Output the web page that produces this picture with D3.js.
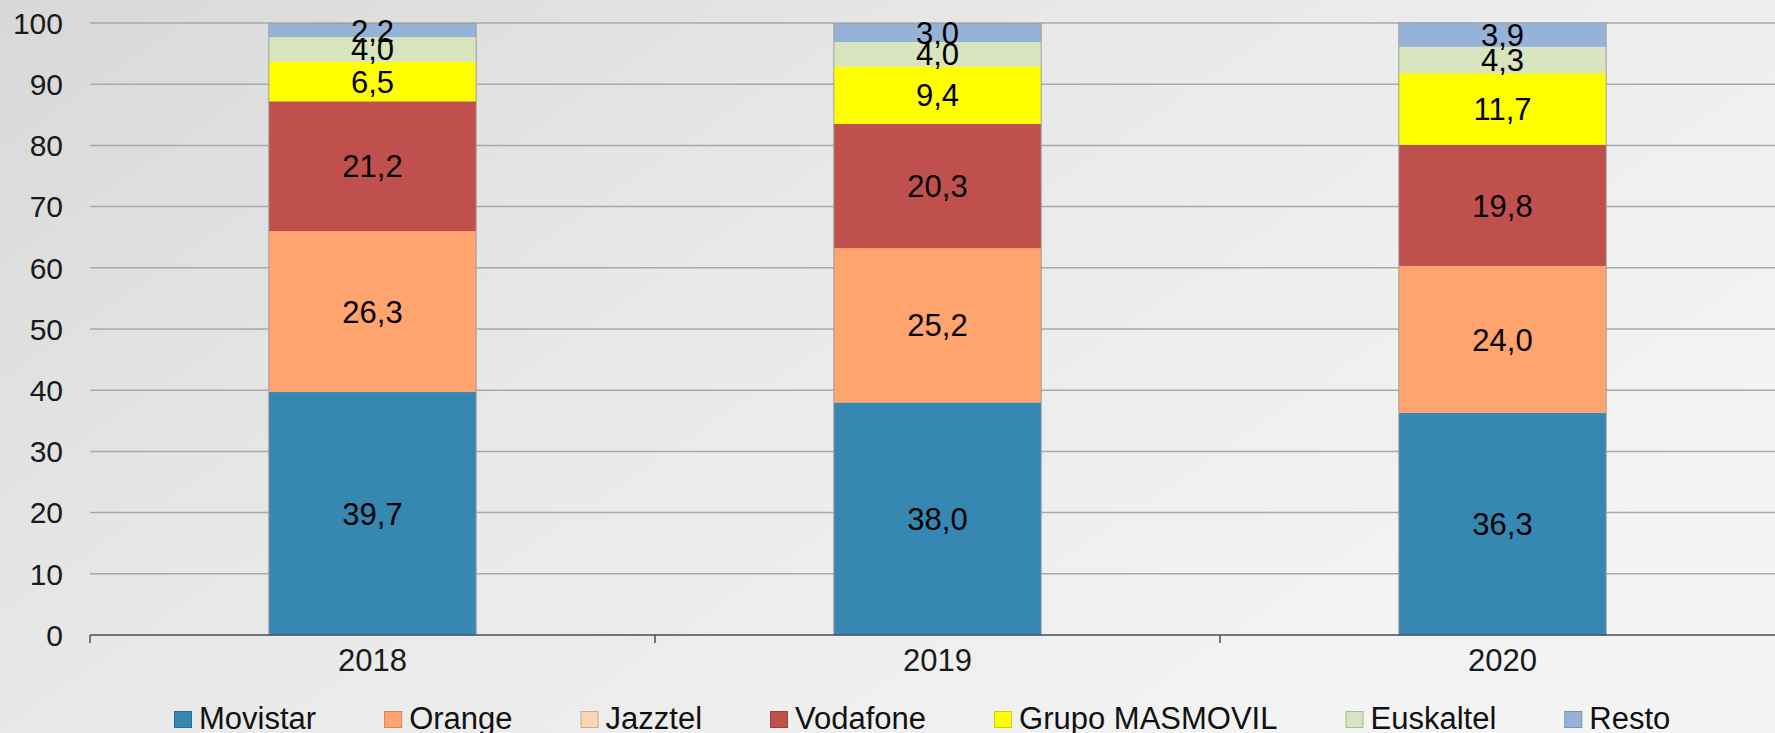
<!DOCTYPE html>
<html>
<head>
<meta charset="utf-8">
<script src="https://cdn.jsdelivr.net/npm/d3@7/dist/d3.min.js"></script>
<style>
  html, body { margin: 0; padding: 0; overflow: hidden; }
  svg { display: block; font-family: "Liberation Sans", Arial, sans-serif; }
</style>
</head>
<body>
<div id="chart"></div>
<script>
// Cuota de mercado por operador (%), barras apiladas al 100 %
const years = ['2018', '2019', '2020'];
const operators = ['Movistar', 'Orange', 'Jazztel', 'Vodafone', 'Grupo MASMOVIL', 'Euskaltel', 'Resto'];
const colors = ['#3787b3', '#ffa46f', '#fcd5b5', '#c0504d', '#ffff00', '#d7e4bd', '#95b3d7'];

const movistar  = [39.7, 38.0, 36.3];
const orange    = [26.3, 25.2, 24.0];
const jazztel   = [0, 0, 0];
const vodafone  = [21.2, 20.3, 19.8];
const masmovil  = [6.5, 9.4, 11.7];
const euskaltel = [4.0, 4.0, 4.3];
const resto     = [2.2, 3.0, 3.9];

const yTicks = [0, 10, 20, 30, 40, 50, 60, 70, 80, 90, 100];

const seriesValues = [movistar, orange, jazztel, vodafone, masmovil, euskaltel, resto];

const width = 1775, height = 733;
const margin = { left: 90, top: 23, bottom: 98 };
const plotRight = margin.left + 565 * 3;

const svg = d3.select('#chart').append('svg')
    .attr('width', width)
    .attr('height', height);

// Background: soft grey gradient, darker top-left
const defs = svg.append('defs');
const grad = defs.append('linearGradient')
    .attr('id', 'bg')
    .attr('x1', '0').attr('y1', '0')
    .attr('x2', '1').attr('y2', '0.6');
grad.append('stop').attr('offset', '0').attr('stop-color', '#d8d8d8');
grad.append('stop').attr('offset', '0.45').attr('stop-color', '#e8e8e8');
grad.append('stop').attr('offset', '1').attr('stop-color', '#f4f4f4');
svg.append('rect').attr('width', width).attr('height', height).attr('fill', 'url(#bg)');

const x = d3.scaleBand()
    .domain(years)
    .range([margin.left, plotRight])
    .paddingInner(0)
    .paddingOuter(0);

const y = d3.scaleLinear()
    .domain([0, 100])
    .range([height - margin.bottom, margin.top]);

// Gridlines
svg.append('g')
    .selectAll('line')
    .data(yTicks.filter(d => d > 0))
    .join('line')
    .attr('x1', margin.left)
    .attr('x2', plotRight)
    .attr('y1', d => y(d))
    .attr('y2', d => y(d))
    .attr('stroke', '#a9a9a9')
    .attr('stroke-width', 1.5);

// Y tick labels
svg.append('g')
    .selectAll('text')
    .data(yTicks)
    .join('text')
    .attr('x', 63)
    .attr('y', d => y(d))
    .attr('dy', '0.36em')
    .attr('text-anchor', 'end')
    .attr('font-size', '30px')
    .attr('fill', '#1a1a1a')
    .text(d => d);

// Stack
const table = years.map((yr, i) => {
    const row = { year: yr };
    operators.forEach((op, j) => { row[op] = seriesValues[j][i]; });
    return row;
});
const stacked = d3.stack().keys(operators)(table);

const barW = x.bandwidth() * 0.367;
const barOffset = (x.bandwidth() - barW) / 2;

const layers = svg.append('g')
    .selectAll('g')
    .data(stacked)
    .join('g')
    .attr('fill', (d, i) => colors[i]);

layers.selectAll('rect')
    .data(d => d.map(v => ({ v, key: d.key })))
    .join('rect')
    .attr('x', d => x(d.v.data.year) + barOffset)
    .attr('width', barW)
    .attr('y', d => y(d.v[1]))
    .attr('height', d => y(d.v[0]) - y(d.v[1]));

// Thin outline of each bar
svg.append('g')
    .selectAll('rect')
    .data(years)
    .join('rect')
    .attr('x', d => x(d) + barOffset)
    .attr('width', barW)
    .attr('y', (d, i) => y(d3.sum(seriesValues, s => s[i])))
    .attr('height', (d, i) => y(0) - y(d3.sum(seriesValues, s => s[i])))
    .attr('fill', 'none')
    .attr('stroke', '#a0a0a0')
    .attr('stroke-width', 1);

// Data labels
const labels = [];
stacked.forEach(layer => {
    layer.forEach(v => {
        const val = v[1] - v[0];
        if (val > 0) labels.push({ year: v.data.year, mid: (v[0] + v[1]) / 2, val });
    });
});
svg.append('g')
    .selectAll('text')
    .data(labels)
    .join('text')
    .attr('x', d => x(d.year) + x.bandwidth() / 2)
    .attr('y', d => y(d.mid))
    .attr('dy', '0.36em')
    .attr('text-anchor', 'middle')
    .attr('font-size', '31px')
    .attr('fill', '#000')
    .text(d => d3.format('.1f')(d.val).replace('.', ','));

// X axis line and ticks at category boundaries
const axisY = y(0);
svg.append('line')
    .attr('x1', margin.left).attr('x2', plotRight)
    .attr('y1', axisY).attr('y2', axisY)
    .attr('stroke', '#3f4f5f')
    .attr('stroke-width', 1.5);
const boundaries = years.map(d => x(d)).concat([plotRight]);
svg.append('g')
    .selectAll('line')
    .data(boundaries)
    .join('line')
    .attr('x1', d => d).attr('x2', d => d)
    .attr('y1', axisY).attr('y2', axisY + 8)
    .attr('stroke', '#3f4f5f')
    .attr('stroke-width', 1.5);

// Year labels
svg.append('g')
    .selectAll('text')
    .data(years)
    .join('text')
    .attr('x', d => x(d) + x.bandwidth() / 2)
    .attr('y', 671)
    .attr('text-anchor', 'middle')
    .attr('font-size', '31px')
    .attr('fill', '#1a1a1a')
    .text(d => d);

// Legend: swatch, text, then a fixed gap to the next item
const legend = svg.append('g');
let lx = 174;
operators.forEach((op, i) => {
    const item = legend.append('g').attr('transform', 'translate(' + lx + ',0)');
    item.append('rect')
        .attr('x', 0.5)
        .attr('y', 711.5)
        .attr('width', 17)
        .attr('height', 16)
        .attr('fill', colors[i])
        .attr('stroke', d3.color(colors[i]).darker(0.6))
        .attr('stroke-width', 1);
    const t = item.append('text')
        .attr('x', 25)
        .attr('y', 729)
        .attr('font-size', '31px')
        .attr('fill', '#111')
        .text(op);
    lx += 25 + t.node().getComputedTextLength() + 68;
});
</script>
</body>
</html>
